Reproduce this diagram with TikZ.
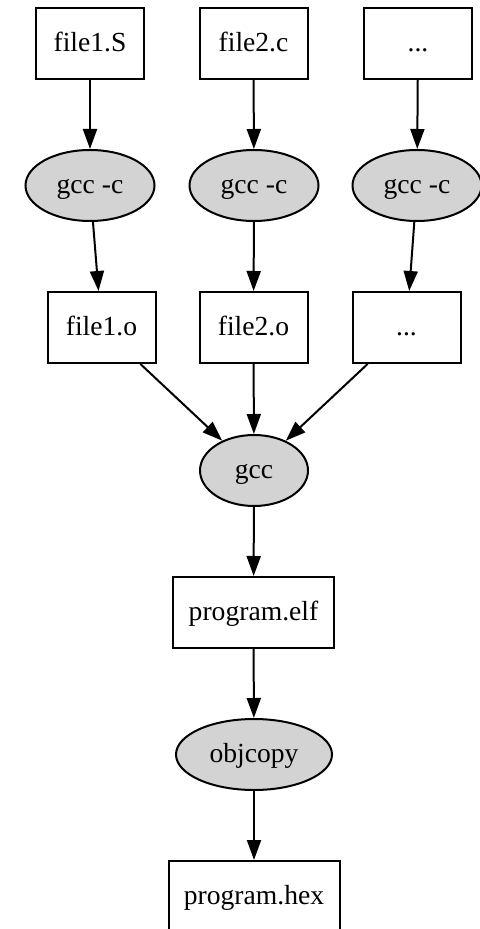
\documentclass[tikz,border=0pt]{standalone}
\usepackage{fontspec}
\setmainfont{Liberation Serif}
\usetikzlibrary{arrows.meta,shapes.geometric}

\definecolor{toolgray}{RGB}{211,211,211}

\tikzset{
  filebox/.style={draw, line width=1pt, rectangle, inner sep=0pt,
    text height=10pt, text depth=2pt,
    minimum width=54pt, minimum height=35.5pt, font=\fontsize{13.8}{16}\selectfont},
  toolnode/.style={draw, line width=1pt, ellipse, fill=toolgray, inner sep=0pt,
    text height=10pt, text depth=2pt,
    minimum width=64.5pt, minimum height=35.5pt, font=\fontsize{13.8}{16}\selectfont},
  flow/.style={line width=1pt, -{Triangle[length=10pt,width=7pt]}}
}

\begin{document}
\begin{tikzpicture}[x=0.5pt,y=-0.5pt]

  \useasboundingbox (0,0) rectangle (480,929);

  % Sources
  \node[filebox] (src1) at (90,43.5) {file1.S};
  \node[filebox] (src2) at (253.5,43.5) {file2.c};
  \node[filebox] (src3) at (418,43.5) {...};

  % Compile steps
  \node[toolnode] (cc1) at (90,185.5) {gcc -c};
  \node[toolnode] (cc2) at (254,185.5) {gcc -c};
  \node[toolnode] (cc3) at (417,185.5) {gcc -c};

  % Objects
  \node[filebox] (obj1) at (101.5,327.5) {file1.o};
  \node[filebox] (obj2) at (253.5,327.5) {file2.o};
  \node[filebox] (obj3) at (406.5,327.5) {...};

  % Link and convert
  \node[toolnode, minimum width=54pt] (link) at (254,470.5) {gcc};
  \node[filebox, minimum width=80.5pt] (elf) at (253.5,612.5) {program.elf};
  \node[toolnode, minimum width=78pt] (objcopy) at (254,754.5) {objcopy};
  \node[filebox, minimum width=85.5pt] (hex) at (254,896.5) {program.hex};

  % Edges
  \draw[flow] (src1) -- (cc1);
  \draw[flow] (src2) -- (cc2);
  \draw[flow] (src3) -- (cc3);
  \draw[flow] (cc1) -- (obj1);
  \draw[flow] (cc2) -- (obj2);
  \draw[flow] (cc3) -- (obj3);
  \draw[flow] (obj1) -- (link);
  \draw[flow] (obj2) -- (link);
  \draw[flow] (obj3) -- (link);
  \draw[flow] (link) -- (elf);
  \draw[flow] (elf) -- (objcopy);
  \draw[flow] (objcopy) -- (hex);

\end{tikzpicture}
\end{document}
